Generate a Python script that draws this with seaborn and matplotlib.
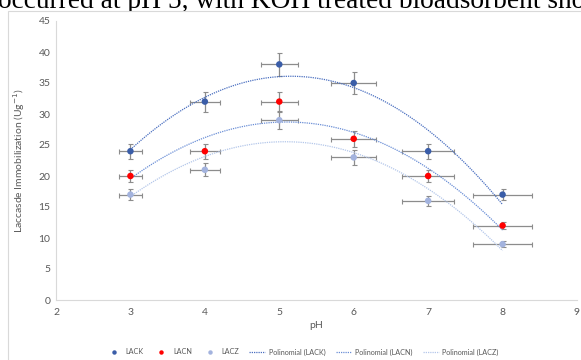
import numpy as np
import pandas as pd
import matplotlib
matplotlib.use("Agg")
import matplotlib.pyplot as plt
from matplotlib.lines import Line2D
from matplotlib.patches import Rectangle
import seaborn as sns

# ---- data ----
ph = [3, 4, 5, 6, 7, 8]
lack = [24, 32, 38, 35, 24, 17]
lacn = [20, 24, 32, 26, 20, 12]
lacz = [17, 21, 29, 23, 16, 9]
series_names = ["LACK", "LACN", "LACZ"]
marker_colors = ["#3a5da8", "#ff0000", "#a3b3de"]
trend_colors = ["#4a6fc0", "#6a8ed6", "#b4c7ea"]
err_frac = 0.05
xticks = [2, 3, 4, 5, 6, 7, 8, 9]
yticks = [0, 5, 10, 15, 20, 25, 30, 35, 40, 45]

sns.set_theme(style="white")
plt.rcParams["font.family"] = ["Lato", "DejaVu Sans"]

W, H = 581, 360
fig = plt.figure(figsize=(W / 100, H / 100), dpi=100)
fig.patch.set_facecolor("white")

# cropped document text above the chart
fig.text(-2 / W, 1 - 7.5 / H, "occurred at pH 5, with KOH treated bioadsorbent sho",
         family="Liberation Serif", fontsize=19.7, color="black",
         ha="left", va="baseline", zorder=-3)
# chart area (covers the lower part of the text)
fig.patches.append(Rectangle((8 / W, -0.1), 1.2, (1 - 10.5 / H) + 0.1,
                             transform=fig.transFigure, facecolor="white",
                             edgecolor="#d9d9d9", linewidth=0.8, zorder=-2))

ax = fig.add_axes([56 / W, 1 - 300 / H, (577 - 56) / W, (300 - 21) / H])
ax.patch.set_alpha(0)

df = pd.DataFrame({"pH": ph * 3,
                   "value": lack + lacn + lacz,
                   "series": sum([[n] * len(ph) for n in series_names], [])})

for name, mc, tc in zip(series_names, marker_colors, trend_colors):
    d = df[df["series"] == name]
    ax.errorbar(d["pH"], d["value"], xerr=d["pH"] * err_frac, yerr=d["value"] * err_frac,
                fmt="none", ecolor="#8c8c8c", elinewidth=0.9, capsize=1.8,
                capthick=0.8, zorder=2)
    sns.regplot(data=d, x="pH", y="value", order=2, ci=None, scatter=False,
                truncate=True, ax=ax,
                line_kws=dict(color=tc, linestyle=(0, (1, 0.8)), linewidth=0.9, zorder=3))
    sns.scatterplot(data=d, x="pH", y="value", color=mc, s=22, edgecolor="none",
                    ax=ax, zorder=4, legend=False)

ax.set_xlim(2, 9)
ax.set_ylim(0, 45)
ax.set_xticks(xticks)
ax.set_yticks(yticks)
ax.tick_params(axis="both", length=0, labelsize=7.5, labelcolor="#595959", pad=4)
ax.tick_params(axis="x", pad=6)
for s in ["top", "right"]:
    ax.spines[s].set_visible(False)
for s in ["left", "bottom"]:
    ax.spines[s].set_color("#d9d9d9")
    ax.spines[s].set_linewidth(0.8)
ax.set_xlabel("pH", fontsize=7.5, color="#595959", labelpad=3)
ax.set_ylabel("Laccasde Immobilization (Ug$^{-1}$)", fontsize=7.5, color="#595959", labelpad=8)

handles = []
labels = []
for name, mc in zip(series_names, marker_colors):
    handles.append(Line2D([], [], linestyle="none", marker="o", markersize=3.2,
                          markerfacecolor=mc, markeredgecolor="none"))
    labels.append(name)
for name, tc in zip(series_names, trend_colors):
    handles.append(Line2D([], [], color=tc, linestyle=(0, (1, 0.8)), linewidth=0.9))
    labels.append(f"Polinomial ({name})")
leg = fig.legend(handles, labels, loc="center", bbox_to_anchor=(0.52, 1 - 352 / H),
                 ncol=6, frameon=False, fontsize=5.2, handlelength=2.2,
                 handletextpad=0.5, columnspacing=1.4)
for t in leg.get_texts():
    t.set_color("#595959")

fig.savefig("out.png", dpi=100, facecolor="white")
